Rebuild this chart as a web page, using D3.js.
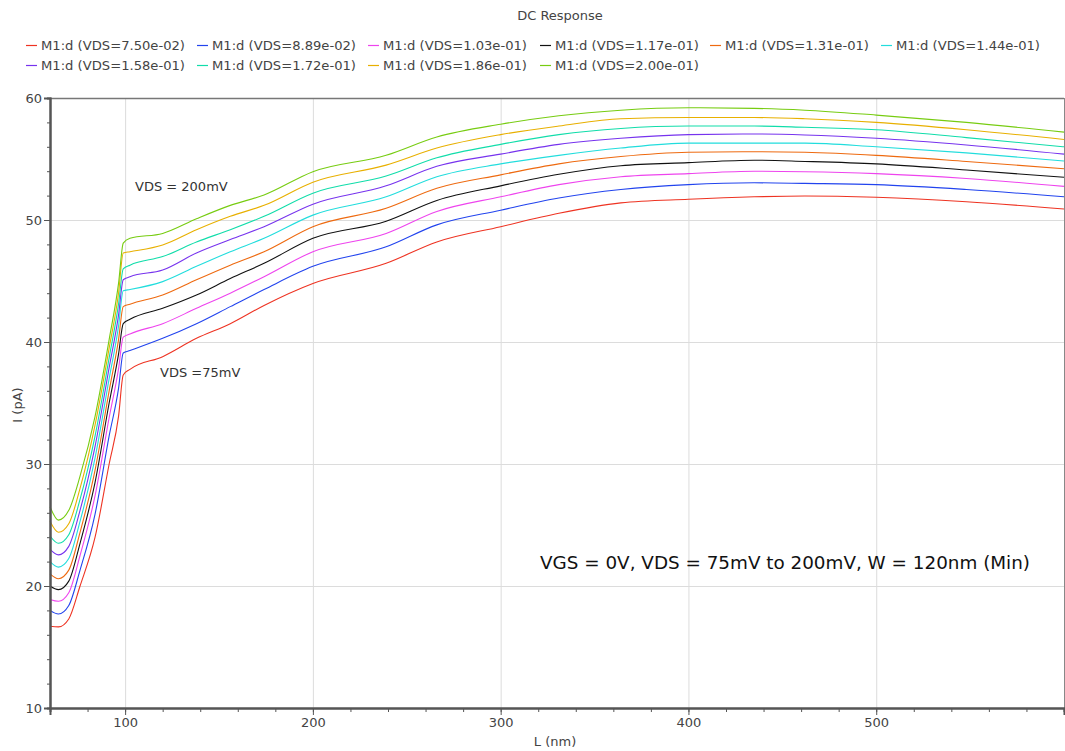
<!DOCTYPE html>
<html>
<head>
<meta charset="utf-8">
<script src="https://cdn.jsdelivr.net/npm/d3@7"></script>
<style>
  body { margin: 0; background: #fff; }
  svg { display: block; font-family: "DejaVu Sans", Verdana, sans-serif; }
</style>
</head>
<body>
<svg id="chart" width="1065" height="751"></svg>
<script>
// ---- data ----
const lengthsNm = [60, 64.5, 70, 76, 84, 91.5, 96.5, 99, 102.6, 120, 138, 156, 174, 200, 239, 266, 300, 331, 364, 400, 435, 462, 500, 548, 600];

const seriesNames = [
  "M1:d (VDS=7.50e-02)", "M1:d (VDS=8.89e-02)", "M1:d (VDS=1.03e-01)", "M1:d (VDS=1.17e-01)", "M1:d (VDS=1.31e-01)",
  "M1:d (VDS=1.44e-01)", "M1:d (VDS=1.58e-01)", "M1:d (VDS=1.72e-01)", "M1:d (VDS=1.86e-01)", "M1:d (VDS=2.00e-01)"
];
const seriesColors = ["#ee3322", "#2244ee", "#ee44ee", "#111111", "#ee6a10", "#22dddd", "#7733ee", "#11ddaa", "#e8b000", "#77cc11"];

const vds075 = [16.7, 16.65, 17.3, 20.0, 24.0, 30.0, 33.9, 37.3, 37.76, 38.8, 40.3, 41.5, 43.0, 44.8, 46.45, 48.2, 49.45, 50.55, 51.4, 51.7, 51.9, 51.97, 51.86, 51.5, 50.9];
const vds089 = [18.0, 17.7, 18.4, 21.3, 25.9, 32.3, 36.2, 39.1, 39.3, 40.3, 41.5, 42.9, 44.3, 46.2, 47.8, 49.6, 50.8, 51.8, 52.5, 52.9, 53.05, 53.0, 52.9, 52.5, 51.9];
const vds103 = [18.9, 18.75, 19.45, 22.5, 27.4, 33.8, 37.8, 40.4, 40.66, 41.5, 42.76, 44.0, 45.35, 47.4, 48.9, 50.7, 51.9, 52.9, 53.55, 53.8, 54.0, 53.96, 53.8, 53.4, 52.76];
const vds117 = [20.0, 19.7, 20.4, 23.5, 28.5, 35.0, 39.0, 41.5, 41.86, 42.76, 43.85, 45.2, 46.45, 48.5, 49.9, 51.6, 52.8, 53.75, 54.45, 54.7, 54.9, 54.8, 54.6, 54.1, 53.5];
const vds131 = [21.0, 20.6, 21.3, 24.4, 29.5, 36.0, 40.2, 42.9, 43.1, 43.85, 45.1, 46.3, 47.4, 49.45, 50.96, 52.6, 53.7, 54.6, 55.2, 55.55, 55.6, 55.55, 55.3, 54.8, 54.2];
const vds144 = [22.0, 21.55, 22.25, 25.3, 30.5, 37.0, 41.3, 44.2, 44.3, 44.95, 46.2, 47.4, 48.5, 50.4, 51.9, 53.55, 54.6, 55.3, 55.9, 56.3, 56.3, 56.3, 56.0, 55.5, 54.84];
const vds158 = [23.0, 22.55, 23.25, 26.2, 31.45, 37.9, 42.2, 45.1, 45.35, 45.9, 47.3, 48.4, 49.45, 51.3, 52.8, 54.4, 55.4, 56.2, 56.7, 57.0, 57.05, 56.97, 56.7, 56.15, 55.4];
const vds172 = [24.1, 23.5, 24.2, 27.1, 32.3, 38.7, 43.1, 46.0, 46.3, 47.0, 48.2, 49.2, 50.3, 52.2, 53.6, 55.1, 56.2, 57.0, 57.5, 57.7, 57.7, 57.6, 57.4, 56.75, 56.0];
const vds186 = [25.3, 24.4, 25.1, 28.0, 33.2, 39.5, 44.0, 47.3, 47.4, 47.95, 49.2, 50.3, 51.2, 53.1, 54.5, 55.9, 57.0, 57.7, 58.3, 58.4, 58.4, 58.3, 58.0, 57.4, 56.6];
const vds200 = [26.5, 25.4, 26.2, 29.0, 33.9, 40.2, 44.8, 48.1, 48.5, 48.9, 50.1, 51.2, 52.05, 53.96, 55.3, 56.8, 57.85, 58.55, 59.0, 59.2, 59.15, 59.0, 58.6, 58.0, 57.2];

const seriesValues = [vds075, vds089, vds103, vds117, vds131, vds144, vds158, vds172, vds186, vds200];

const xTickValues = [100, 200, 300, 400, 500];
const yTickValues = [10, 20, 30, 40, 50, 60];

// ---- layout ----
const svg = d3.select("#chart");
const plot = { left: 50, right: 1064, top: 98, bottom: 708 };

const x = d3.scaleLinear().domain([60, 600]).range([plot.left, plot.right]);
const y = d3.scaleLinear().domain([10, 60]).range([plot.bottom, plot.top]);

// grid
const grid = svg.append("g");
grid.selectAll("line.gx").data(xTickValues).join("line")
  .attr("x1", d => x(d) + 0.5).attr("x2", d => x(d) + 0.5)
  .attr("y1", plot.top).attr("y2", plot.bottom)
  .attr("stroke", "#dcdcdc").attr("stroke-width", 1);
grid.selectAll("line.gy").data(yTickValues.filter(v => v > 10 && v < 60)).join("line")
  .attr("y1", d => Math.round(y(d)) + 0.5).attr("y2", d => Math.round(y(d)) + 0.5)
  .attr("x1", plot.left).attr("x2", plot.right)
  .attr("stroke", "#dcdcdc").attr("stroke-width", 1);

// frame top/right
svg.append("line").attr("x1", plot.left).attr("x2", plot.right).attr("y1", plot.top + 0.5).attr("y2", plot.top + 0.5)
  .attr("stroke", "#777").attr("stroke-width", 1.5);
svg.append("line").attr("x1", plot.right + 0.5).attr("x2", plot.right + 0.5).attr("y1", plot.top).attr("y2", plot.bottom)
  .attr("stroke", "#888").attr("stroke-width", 1);

// lines
const line = d3.line()
  .x((d, i) => x(lengthsNm[i]))
  .y(d => y(d))
  .curve(d3.curveMonotoneX);

const linesG = svg.append("g");
seriesValues.forEach((vals, k) => {
  linesG.append("path")
    .attr("d", line(vals))
    .attr("fill", "none")
    .attr("stroke", seriesColors[k])
    .attr("stroke-width", 1.1);
});

// axes
const xAxisMinor = d3.axisBottom(x).tickValues(d3.range(60, 601, 20)).tickSize(4).tickFormat("");
const xAxis = d3.axisBottom(x).tickValues(xTickValues).tickSize(7).tickPadding(3);
const yAxisMinor = d3.axisLeft(y).tickValues(d3.range(10, 61, 2)).tickSize(3).tickFormat("");
const yAxis = d3.axisLeft(y).tickValues(yTickValues).tickSize(6).tickPadding(2);

function styleAxis(g) {
  g.select(".domain").attr("stroke", "#555").attr("stroke-width", 2);
  g.selectAll(".tick line").attr("stroke", "#555");
  g.selectAll(".tick text").attr("fill", "#444").style("font-size", "13px").style("font-family", "DejaVu Sans, sans-serif");
}
svg.append("g").attr("transform", `translate(0,${plot.bottom})`).call(xAxisMinor).call(styleAxis);
svg.append("g").attr("transform", `translate(0,${plot.bottom})`).call(xAxis).call(styleAxis);
svg.append("g").attr("transform", `translate(${plot.left},0)`).call(yAxisMinor).call(styleAxis);
svg.append("g").attr("transform", `translate(${plot.left},0)`).call(yAxis).call(styleAxis);

// axis titles
svg.append("text").attr("x", 555).attr("y", 746).attr("text-anchor", "middle")
  .attr("fill", "#444").style("font-size", "13px").text("L (nm)");
svg.append("text").attr("transform", "translate(22,405) rotate(-90)").attr("text-anchor", "middle")
  .attr("fill", "#444").style("font-size", "13px").text("I (pA)");

// title
svg.append("text").attr("x", 560).attr("y", 20).attr("text-anchor", "middle")
  .attr("fill", "#444").style("font-size", "13px").text("DC Response");

// legend
const legendCols = [26, 197, 368, 540, 710, 881];
const legendRows = [45, 65];
seriesNames.forEach((name, k) => {
  const cx = legendCols[k % 6];
  const cy = legendRows[Math.floor(k / 6)];
  const g = svg.append("g").attr("transform", `translate(${cx},${cy})`);
  g.append("line").attr("x1", 0).attr("x2", 11).attr("y1", 0.5).attr("y2", 0.5)
    .attr("stroke", seriesColors[k]).attr("stroke-width", 1.2);
  g.append("text").attr("x", 15).attr("y", 5).attr("fill", "#444")
    .style("font-size", "13px").attr("textLength", 144).attr("lengthAdjust", "spacingAndGlyphs").text(name);
});

// annotations
svg.append("text").attr("x", 135).attr("y", 191).attr("fill", "#333").style("font-size", "13px").text("VDS = 200mV");
svg.append("text").attr("x", 160).attr("y", 377).attr("fill", "#333").style("font-size", "13px").text("VDS =75mV");
svg.append("text").attr("x", 540).attr("y", 569).attr("fill", "#111").style("font-size", "17px")
  .attr("textLength", 490).attr("lengthAdjust", "spacingAndGlyphs")
  .text("VGS = 0V, VDS = 75mV to 200mV, W = 120nm (Min)");
</script>
</body>
</html>
